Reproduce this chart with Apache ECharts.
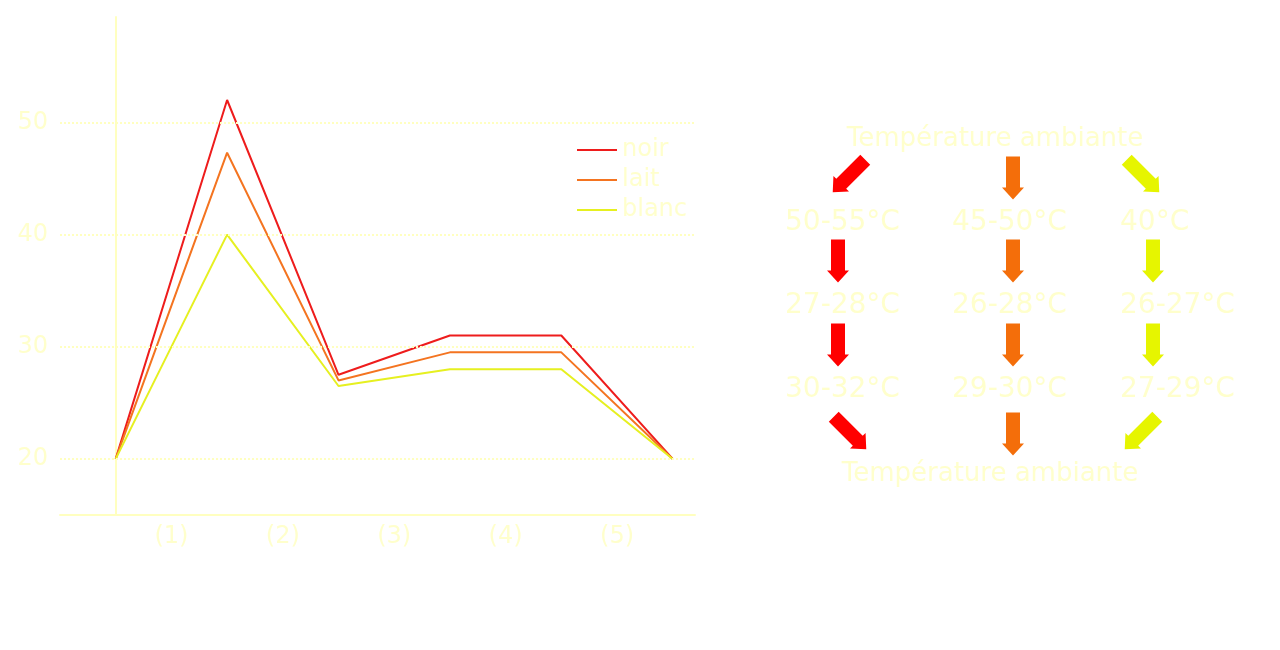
<!DOCTYPE html>
<html><head><meta charset="utf-8">
<script src="https://cdn.jsdelivr.net/npm/echarts@6/dist/echarts.min.js"></script>
<style>html,body{margin:0;background:#fff}#c{width:1280px;height:650px}</style>
</head><body><div id="c"></div>
<script>
const steps = [0,1,2,3,4,5];
const stepLabels = ['(1)','(2)','(3)','(4)','(5)'];
const noir  = [20,52,27.5,31,31,20];
const lait  = [20,47.3,27,29.5,29.5,20];
const blanc = [20,40,26.5,28,28,20];
const gridValues = [20,30,40,50];
const colNoir = ['50-55°C','27-28°C','30-32°C'];
const colLait = ['45-50°C','26-28°C','29-30°C'];
const colBlanc = ['40°C','26-27°C','27-29°C'];
const title = 'Température ambiante';

const TXT = '#ffffcc', FONT = 'DejaVu Sans';
const C1 = '#ff0000', C2 = '#f46e0a', C3 = '#e6f500';
function arrow(cx, cy, L, rot, color){
  const h=L/2, pts=[[-7,-h],[7,-h],[7,h-12],[11,h-12],[0,h],[-11,h-12],[-7,h-12]];
  return {type:'polygon', x:cx, y:cy, rotation:rot, shape:{points:pts}, style:{fill:color}};
}
function txt(x,y,s,align){return {type:'text',x:x,y:y,style:{text:s,fill:TXT,font:'28px '+FONT,textAlign:align||'left',textVerticalAlign:'middle'}};}
const g=[];
g.push({type:'text',x:995,y:139,style:{text:title,fill:TXT,font:'26px '+FONT,textAlign:'center',textVerticalAlign:'middle'}});
g.push({type:'text',x:990,y:474,style:{text:title,fill:TXT,font:'26px '+FONT,textAlign:'center',textVerticalAlign:'middle'}});
const rows=[223,306,390];
rows.forEach((y,i)=>{g.push(txt(785,y,colNoir[i]));g.push(txt(952,y,colLait[i]));g.push(txt(1120,y,colBlanc[i]));});
g.push(arrow(849,176,46,-Math.PI/4,C1));
g.push(arrow(1013,178,43,0,C2));
g.push(arrow(1143,176,46,Math.PI/4,C3));
[261,345].forEach(y=>{g.push(arrow(838,y,43,0,C1));g.push(arrow(1013,y,43,0,C2));g.push(arrow(1153,y,43,0,C3));});
g.push(arrow(850,433,46,Math.PI/4,C1));
g.push(arrow(1013,434,43,0,C2));
g.push(arrow(1141,433,46,-Math.PI/4,C3));

const mk = a => steps.map((s,i)=>[s,a[i]]);
const chart = echarts.init(document.getElementById('c'));
chart.setOption({
  animation:false,
  backgroundColor:'#ffffff',
  grid:{left:60,right:585,top:17,bottom:135},
  legend:{orient:'vertical',left:572,top:133,itemWidth:40,itemHeight:14,itemGap:6,icon:'path://M0,6L40,6L40,8L0,8Z',
    textStyle:{color:TXT,fontSize:24,fontFamily:FONT},data:['noir','lait','blanc']},
  xAxis:{type:'value',min:-0.5,max:5.2,interval:0.5,
    axisLine:{lineStyle:{color:'#ffffc0',width:2}},axisTick:{show:false},splitLine:{show:false},
    axisLabel:{color:TXT,fontSize:24,fontFamily:FONT,margin:10,showMaxLabel:false,
      formatter:v=>{const k=Math.round(v*2);return (k%2===1&&k>0&&k<10)?stepLabels[(k-1)/2]:'';}}},
  yAxis:{type:'value',min:15,max:59.4,interval:5,
    axisLine:{show:true,lineStyle:{color:'#ffffc0',width:2}},axisTick:{show:false},splitLine:{show:false},
    axisLabel:{color:TXT,fontSize:24,fontFamily:FONT,margin:12,showMaxLabel:false,
      formatter:v=>gridValues.includes(v)?String(v):''}},
  series:[
    {name:'noir',type:'line',data:mk(noir),symbol:'none',lineStyle:{color:'#ee1c1c',width:2},itemStyle:{color:'#ee1c1c'},
     markLine:{silent:true,symbol:'none',label:{show:false},lineStyle:{color:'#ffffc0',type:'dotted',width:2},data:gridValues.map(v=>({yAxis:v}))}},
    {name:'lait',type:'line',data:mk(lait),symbol:'none',lineStyle:{color:'#f47420',width:2},itemStyle:{color:'#f47420'}},
    {name:'blanc',type:'line',data:mk(blanc),symbol:'none',lineStyle:{color:'#e6f020',width:2},itemStyle:{color:'#e6f020'}}
  ],
  graphic:g
});
</script></body></html>
